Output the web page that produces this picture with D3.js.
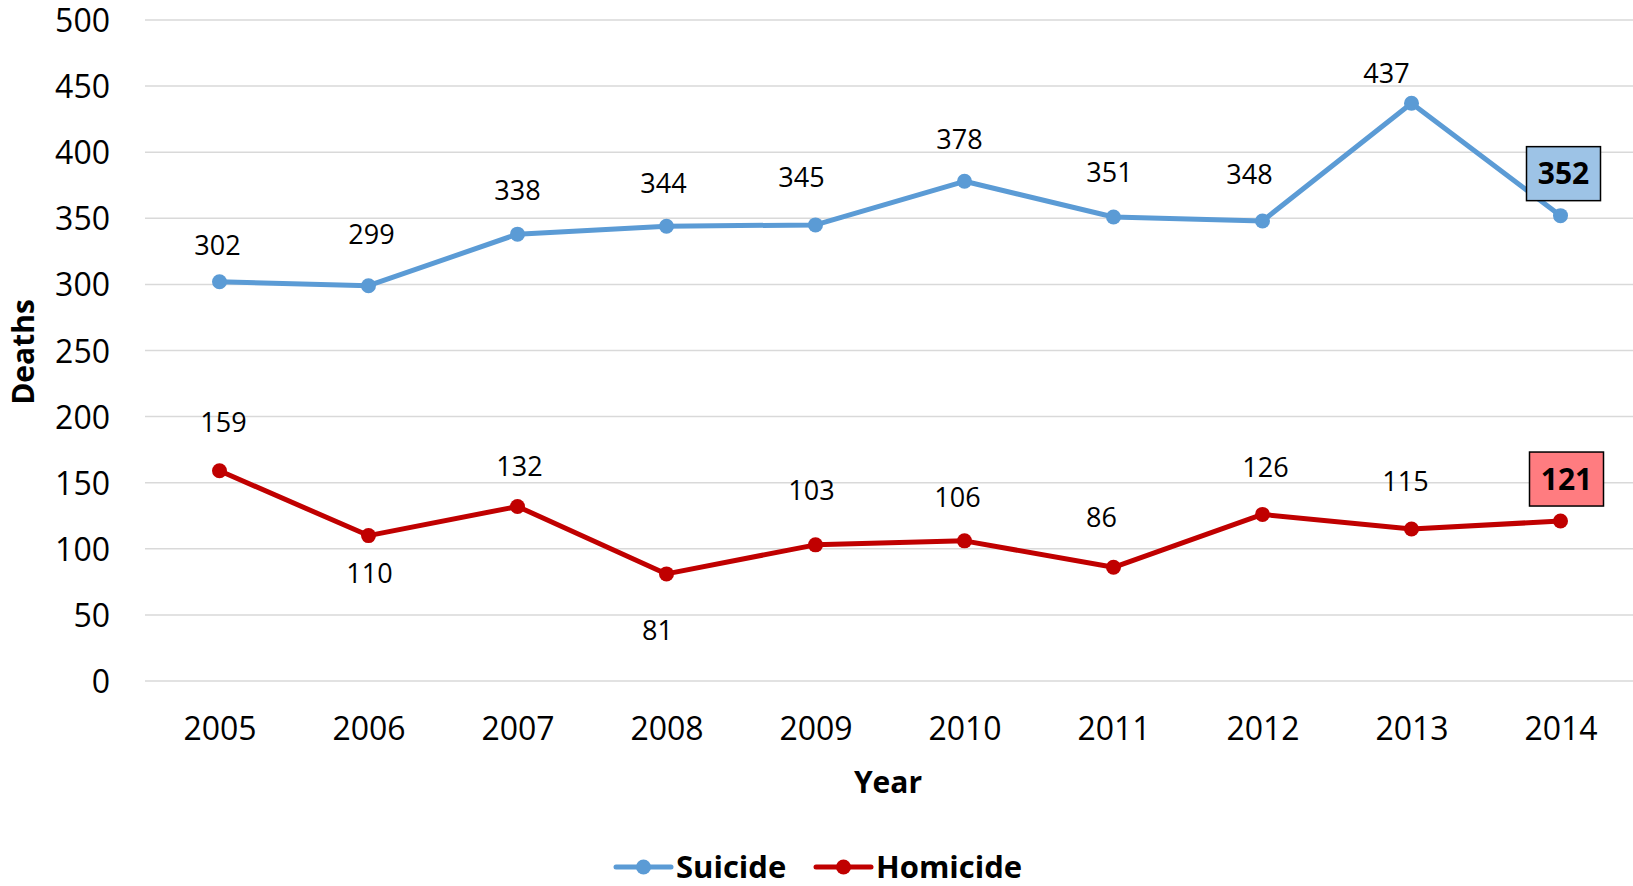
<!DOCTYPE html>
<html>
<head>
<meta charset="utf-8">
<script src="https://cdn.jsdelivr.net/npm/d3@7"></script>
<style>
  html, body { margin: 0; padding: 0; background: #fff; }
  svg { display: block; font-family: "Open Sans", sans-serif; }
</style>
</head>
<body>
<svg id="chart" width="1633" height="886"></svg>
<script>
const years = ["2005","2006","2007","2008","2009","2010","2011","2012","2013","2014"];
const suicide = [302, 299, 338, 344, 345, 378, 351, 348, 437, 352];
const homicide = [159, 110, 132, 81, 103, 106, 86, 126, 115, 121];
const yTicks = [0, 50, 100, 150, 200, 250, 300, 350, 400, 450, 500];
const seriesNames = ["Suicide", "Homicide"];

// label placement (layout, pixel offsets from point)
const suicideLabelDy = [-36, -51, -44, -43, -48, -42, -45, -47, -30, -42];
const suicideLabelDx = [-2, 3, 0, -3, -14, -5, -4, -13, -25, 3];
const homicideLabelDy = [-49, 38, -40, 56, -55, -44, -50, -47, -48, -42];
const homicideLabelDx = [4, 1, 2, -9, -4, -7, -12, 3, -6, 6];

const colors = { Suicide: "#5B9BD5", Homicide: "#C00000" };
const boxFill = { Suicide: "#9DC3E6", Homicide: "#FF7C80" };

const svg = d3.select("#chart");
const x = d3.scalePoint().domain(years).range([145, 1635]).padding(0.5);
const y = d3.scaleLinear().domain([0, 500]).range([681, 20]);

// gridlines
svg.append("g").selectAll("line").data(yTicks).join("line")
  .attr("x1", 145).attr("x2", 1633)
  .attr("y1", d => y(d)).attr("y2", d => y(d))
  .attr("stroke", "#d9d9d9").attr("stroke-width", 1.5);

// y axis
const yAxis = svg.append("g").attr("transform", "translate(110,0)")
  .call(d3.axisLeft(y).tickValues(yTicks).tickSize(0).tickPadding(0));
yAxis.select(".domain").remove();
yAxis.selectAll("text").attr("font-size", 32).attr("font-family", "Open Sans, sans-serif")
  .attr("fill", "#000").attr("dy", "0.36em");

// x axis
const xAxis = svg.append("g").attr("transform", "translate(0,681)")
  .call(d3.axisBottom(x).tickSize(0).tickPadding(0));
xAxis.select(".domain").remove();
xAxis.selectAll("text").attr("font-size", 32).attr("font-family", "Open Sans, sans-serif")
  .attr("fill", "#000").attr("dy", 0).attr("y", 59);

// axis titles
svg.append("text").attr("x", 888).attr("y", 793).attr("text-anchor", "middle")
  .attr("font-size", 30).attr("font-weight", "bold").text("Year");
svg.append("text").attr("transform", "translate(34,352) rotate(-90)")
  .attr("text-anchor", "middle").attr("font-size", 30).attr("font-weight", "bold").text("Deaths");

const line = d3.line().x((d, i) => x(years[i])).y(d => y(d));

function drawSeries(name, values, dxs, dys) {
  const c = colors[name];
  svg.append("path").datum(values).attr("d", line)
    .attr("fill", "none").attr("stroke", c).attr("stroke-width", 5)
    .attr("stroke-linejoin", "round").attr("stroke-linecap", "round");
  svg.append("g").selectAll("circle").data(values).join("circle")
    .attr("cx", (d, i) => x(years[i])).attr("cy", d => y(d)).attr("r", 7.5).attr("fill", c);
  const last = values.length - 1;
  const g = svg.append("g");
  values.forEach((v, i) => {
    const cx = x(years[i]) + dxs[i], cy = y(v) + dys[i];
    if (i === last) {
      g.append("rect").attr("x", cx - 37).attr("y", cy - 27).attr("width", 74).attr("height", 54)
        .attr("fill", boxFill[name]).attr("stroke", "#000").attr("stroke-width", 1.5);
      g.append("text").attr("x", cx).attr("y", cy).attr("dy", "0.36em").attr("text-anchor", "middle")
        .attr("font-size", 30).attr("font-weight", "bold").attr("fill", "#000").text(v);
    } else {
      g.append("text").attr("x", cx).attr("y", cy).attr("dy", "0.36em").attr("text-anchor", "middle")
        .attr("font-size", 27).attr("fill", "#000").text(v);
    }
  });
}
drawSeries("Suicide", suicide, suicideLabelDx, suicideLabelDy);
drawSeries("Homicide", homicide, homicideLabelDx, homicideLabelDy);

// legend
const legendX = [616, 816];
seriesNames.forEach((n, i) => {
  const lx = legendX[i], ly = 867;
  const g = svg.append("g");
  g.append("line").attr("x1", lx).attr("x2", lx + 55).attr("y1", ly).attr("y2", ly)
    .attr("stroke", colors[n]).attr("stroke-width", 5).attr("stroke-linecap", "round");
  g.append("circle").attr("cx", lx + 27.5).attr("cy", ly).attr("r", 7.5).attr("fill", colors[n]);
  g.append("text").attr("x", lx + 60).attr("y", ly).attr("dy", "0.36em")
    .attr("font-size", 31).attr("font-weight", "bold").attr("fill", "#000").text(n);
});
</script>
</body>
</html>
